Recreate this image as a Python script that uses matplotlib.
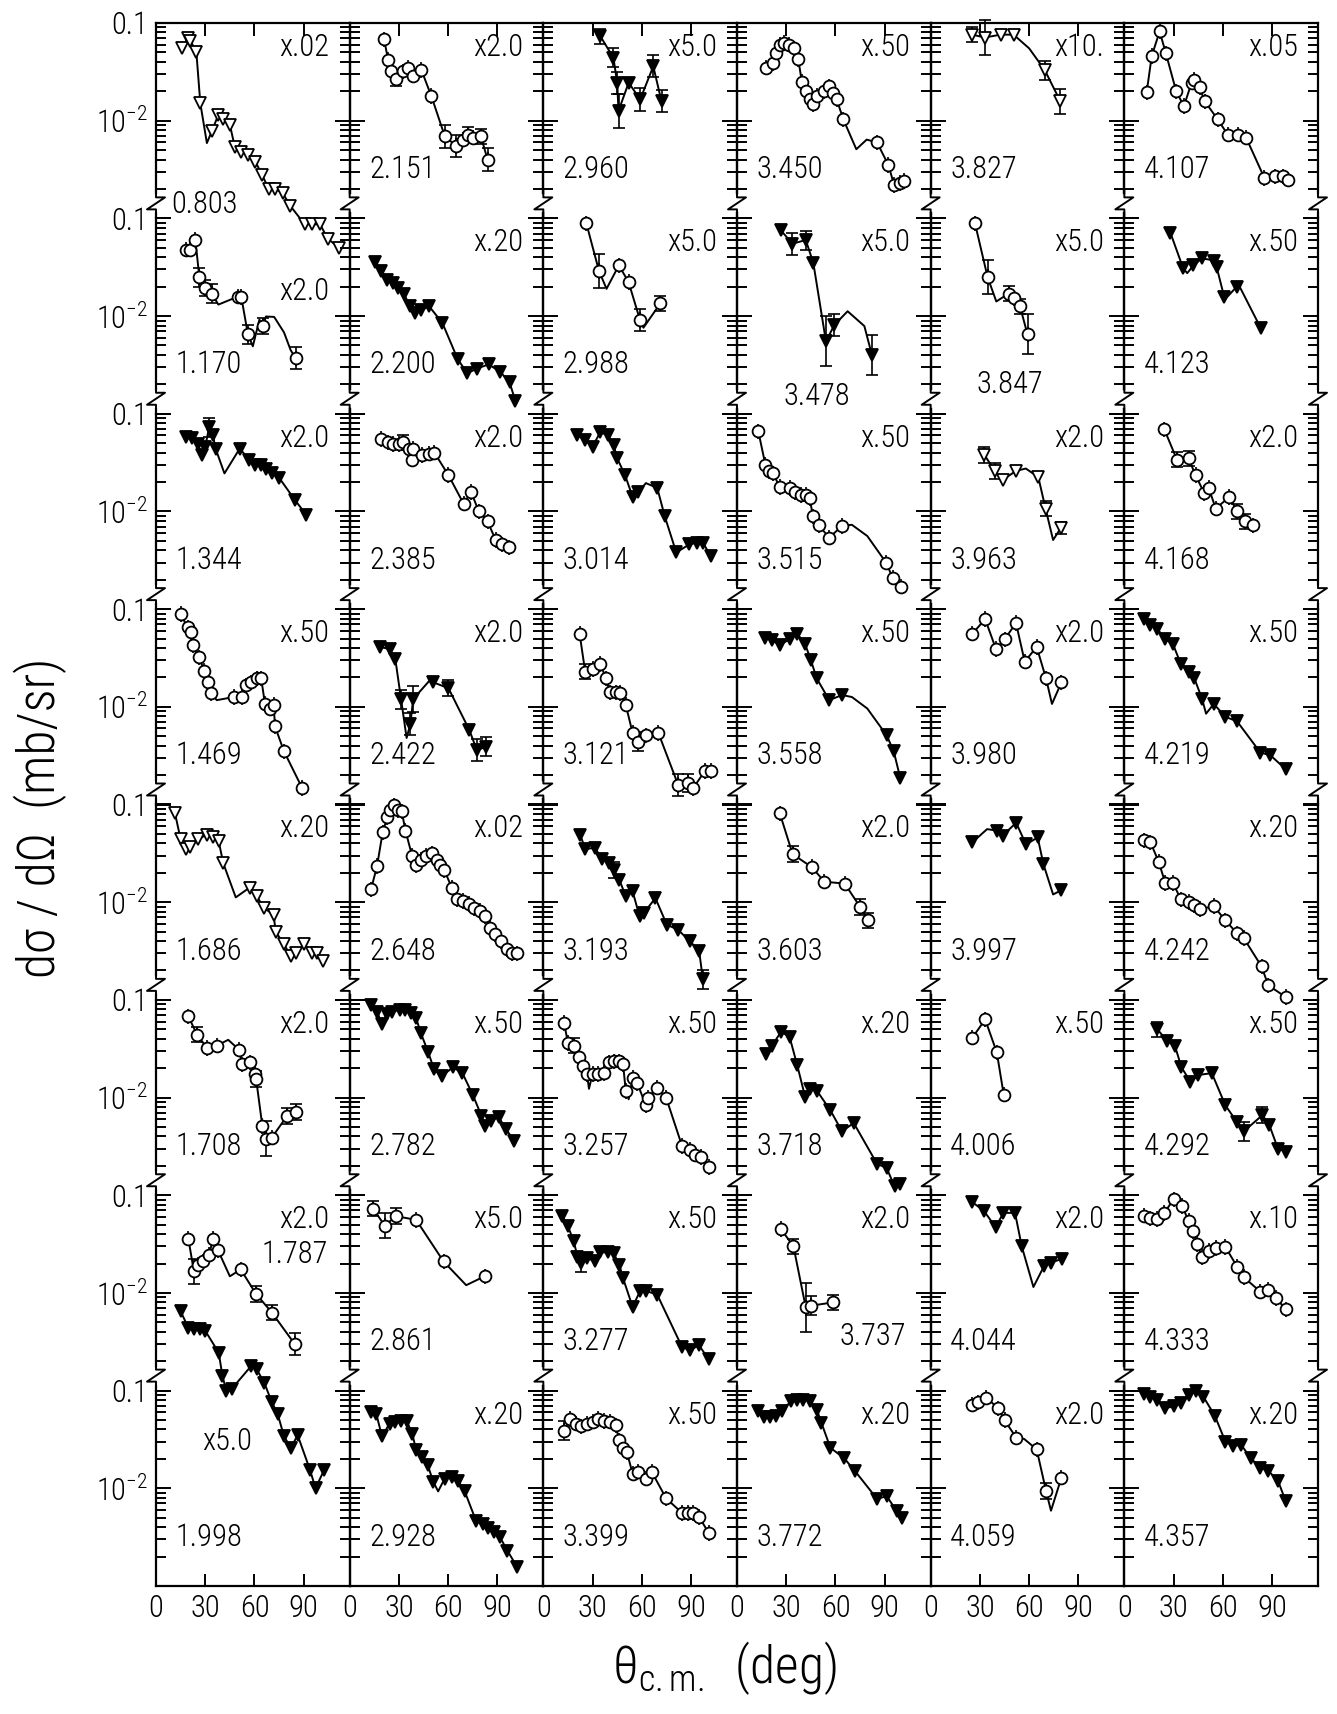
import numpy as np
import matplotlib
matplotlib.use("Agg")
import matplotlib.pyplot as plt
from matplotlib.lines import Line2D
from matplotlib.ticker import LogLocator, NullFormatter, FixedLocator, FixedFormatter
from matplotlib import font_manager

# panels in column order: index // 8 = column, index % 8 = row
ENERGIES = ["0.803", "1.170", "1.344", "1.469", "1.686", "1.708", "1.787", "1.998",
            "2.151", "2.200", "2.385", "2.422", "2.648", "2.782", "2.861", "2.928",
            "2.960", "2.988", "3.014", "3.121", "3.193", "3.257", "3.277", "3.399",
            "3.450", "3.478", "3.515", "3.558", "3.603", "3.718", "3.737", "3.772",
            "3.827", "3.847", "3.963", "3.980", "3.997", "4.006", "4.044", "4.059",
            "4.107", "4.123", "4.168", "4.219", "4.242", "4.292", "4.333", "4.357"]

SCALES = ["x.02", "x2.0", "x2.0", "x.50", "x.20", "x2.0", "x2.0", "x5.0",
          "x2.0", "x.20", "x2.0", "x2.0", "x.02", "x.50", "x5.0", "x.20",
          "x5.0", "x5.0", "", "", "", "x.50", "x.50", "x.50",
          "x.50", "x5.0", "x.50", "x.50", "x2.0", "x.20", "x2.0", "x.20",
          "x10.", "x5.0", "x2.0", "x2.0", "", "x.50", "x2.0", "x2.0",
          "x.05", "x.50", "x2.0", "x.50", "x.20", "x.50", "x.10", "x.20"]

# o = open circle, v = filled triangle, V = open triangle
SYMBOLS = ["V", "o", "v", "o", "V", "o", "o", "v",
           "o", "v", "o", "v", "o", "v", "o", "v",
           "v", "o", "v", "o", "v", "o", "v", "o",
           "o", "v", "o", "v", "o", "v", "o", "v",
           "V", "o", "V", "o", "v", "o", "v", "o",
           "o", "v", "o", "v", "o", "v", "o", "v"]

ANGLES = [
    [15.9, 19.5, 21, 24.6, 27, 34, 38, 41, 45, 48, 52, 56, 60.6, 64.6, 68.7, 72.8, 77.4, 81.7, 90.6, 95, 100, 104.6, 111.6],
    [18.2, 21, 24, 26.4, 30, 34, 49.8, 52, 56, 65, 85],
    [18.5, 22, 25.5, 27.8, 30, 32.4, 34.7, 36.3, 51, 56.7, 60.2, 63.7, 67.1, 70.6, 75.2, 84.5, 91.4],
    [15, 19.2, 21.5, 22.7, 26.2, 29.4, 31.7, 33.6, 47.5, 52.5, 54.9, 57.9, 61.3, 64.1, 66.4, 69.4, 71.7, 72.5, 78, 89],
    [11.6, 15, 18.5, 20.8, 25.5, 30.8, 34.7, 38.2, 41, 57, 61.3, 66, 71.7, 72.9, 78, 82.2, 85.6, 90.3, 94.9, 98.4, 101.8],
    [19.7, 25, 31.2, 37, 50.5, 52.5, 57.2, 60.2, 61, 64.8, 67, 70.6, 79.9, 85.6],
    [19.7, 23.1, 25.5, 28.9, 32.4, 34.7, 37.7, 51.6, 60.9, 70.6, 84.5],
    [15, 19.7, 23.1, 26.6, 30, 38.2, 40.5, 42.8, 46.3, 57.9, 61.3, 66, 70.6, 74.1, 78, 82.2, 86.3, 93.8, 97.2, 102.5],
    [21, 23.4, 25.4, 28.5, 32.5, 35.6, 38.6, 43.7, 49.8, 58, 65, 69, 72, 75, 80, 84],
    [15.7, 19.2, 22.7, 26.2, 29.7, 33, 36.7, 40, 43.7, 48.4, 56.5, 65.9, 71.7, 77.6, 84.6, 91.6, 97.4, 101],
    [19.2, 23.1, 26.6, 30, 32.4, 35.9, 38, 38.7, 44, 48.6, 51.6, 60.2, 69.4, 74, 78.7, 84, 89, 92.6, 97.2],
    [18.5, 24.3, 27.8, 31.3, 37, 38.7, 51, 60.2, 72.9, 77.5, 83.3],
    [13, 16.7, 20.1, 22.9, 24.8, 27.1, 29.4, 31.7, 34, 38, 40.3, 43.3, 46.5, 50.2, 53, 55.3, 57.6, 62.2, 65.7, 69.1,
     72.6, 76, 79.5, 82.3, 85.3, 88.8, 92.2, 95.7, 99.1, 101.9],
    [13.3, 16.7, 19.7, 22.5, 26, 30.6, 34, 37.5, 40.5, 43.3, 47.9, 51.4, 56, 63, 68.7, 75.2, 80.3, 82.6, 86, 90.7, 95.3, 99.9],
    [14.3, 21.3, 28.3, 40.5, 57.2, 82.2],
    [12.8, 16.2, 19.7, 24.3, 27.8, 31.3, 34.7, 38.2, 40.5, 44, 47.5, 50.9, 57.9, 62.5, 66, 70.1, 77.1, 81, 84.5, 88, 91.4, 96.1, 101.9],
    [34.8, 42.7, 45, 45.8, 52, 59, 67, 72],
    [26.2, 33.9, 46, 51.9, 58.9, 71.3],
    [20.8, 25.5, 30, 34.7, 39.4, 42.8, 45, 49.8, 54.4, 57.9, 69.4, 74, 81, 89, 93.8, 97.2, 102],
    [22.1, 25.5, 30, 34.7, 38.2, 40.5, 44, 47, 50.2, 54.4, 57.9, 62.5, 70.1, 82.2, 88, 91.4, 98.4, 101.9],
    [22.5, 25.5, 31.3, 35.9, 40, 42.8, 46.3, 50.2, 54.4, 58.6, 61.3, 68.3, 75.2, 82.2, 89.1, 94.9, 97.2],
    [12.7, 15, 18.5, 22, 24.3, 26.6, 30, 33.6, 37, 40, 43.3, 46.3, 48.6, 50.2, 54.4, 57.2, 62.5, 63.7, 69.4, 74.8,
     84.5, 89.1, 92.6, 96.1, 100.7],
    [11.6, 15, 18.5, 20.8, 23.1, 26.6, 31.3, 34.7, 39.4, 42.8, 46.3, 48.6, 54.4, 59, 62.5, 69.4, 84.5, 89.1, 94.9, 100.7],
    [12.7, 16.2, 19.7, 23.1, 26.6, 30, 33.6, 37, 40.5, 44, 46.3, 48.6, 50.9, 54.4, 57.9, 62.5, 66, 74.8, 84.5, 88,
     91.4, 94.9, 100.7],
    [17.4, 22, 23.7, 26, 28.4, 31.6, 34.8, 37.3, 39.5, 42, 44.2, 46.4, 49, 52.8, 56, 58.5, 60.7, 64.8, 85.3, 92.3, 95.7, 99.5, 102],
    [26.6, 33.7, 41.9, 46.5, 54.2, 59.3, 82.2],
    [13, 17.3, 19.7, 22, 26, 32, 35.5, 39, 42, 44.3, 46.2, 49.8, 56.2, 64, 90.8, 94.8, 100],
    [17.3, 21.3, 26, 32, 36.7, 41.5, 45, 48.6, 56.2, 64, 91.2, 95.5, 99.5],
    [26.1, 33.9, 45.5, 53.3, 65.6, 75.1, 79.9],
    [17.8, 21.3, 26.8, 32, 36.7, 41.5, 44.3, 48.6, 56.9, 64, 71.1, 85.3, 91.2, 96, 99.5],
    [26.8, 34.4, 41.9, 45, 58.5],
    [13, 16.6, 20.1, 23.7, 27.3, 33.2, 36.7, 40.3, 44.3, 48.6, 51.4, 56.9, 65.2, 71.8, 85.3, 91.2, 97.2, 100.7],
    [25.3, 33, 42.6, 50.5, 69.5, 79],
    [27, 34.7, 47.5, 50.6, 54.4, 59],
    [32.7, 39.1, 43.8, 52, 65.6, 70, 79.4],
    [25.4, 33.2, 39.8, 45, 52, 57.3, 64.6, 70.3, 79.7],
    [25.4, 40.3, 43.8, 52.1, 58.1, 65.2, 68.7, 79.4],
    [25.4, 33.2, 40.3, 44.5],
    [25.4, 32.5, 39.6, 44.3, 51.4, 55.5, 69.2, 73.5, 79.9],
    [25.4, 29.1, 33.9, 41, 45, 52.1, 64.6, 70.3, 79.7],
    [13.6, 16.7, 21.5, 25.3, 31.6, 36.3, 41, 42.7, 45.8, 49, 56.9, 63, 69.5, 74.2, 85.3, 91.6, 96.4, 99.5],
    [28.1, 35.8, 42.1, 47.3, 54.9, 56.2, 60.8, 68.5, 83],
    [24.4, 32, 39.1, 43.4, 48.6, 51.4, 55.7, 64, 68.7, 73.5, 78.2],
    [11.8, 15.4, 20.1, 24.9, 29.6, 34.4, 39.1, 42.7, 47.4, 54.5, 61.6, 68.7, 82.9, 88.9, 98.3],
    [11.8, 15.9, 20.9, 24.9, 29.6, 34.4, 39.1, 42.7, 46.2, 54.5, 61.6, 68.7, 72.7, 83.6, 87.7, 98.3],
    [20.1, 26.1, 30.8, 34.8, 40.3, 45, 53.3, 61.6, 68.7, 72.7, 84.1, 88.4, 93.6, 98.3],
    [11.8, 15.4, 19.7, 24.4, 30, 35.1, 39.1, 41.9, 44.3, 47.4, 51.4, 55.7, 61.6, 68.7, 72.7, 82.9, 87.7, 92.4, 98.3],
    [11.8, 15.4, 20.1, 24.9, 30, 34.8, 39.6, 43.8, 48.1, 55.2, 61.6, 66.4, 71.1, 77, 82.9, 87.7, 93.6, 98.3],
]

SIGMAS = [
    [0.055, 0.071, 0.066, 0.050, 0.0151, 0.0078, 0.0115, 0.0105, 0.0091, 0.0054, 0.0048, 0.0045, 0.0038, 0.0028,
     0.0020, 0.0020, 0.0018, 0.00135, 0.00087, 0.00087, 0.00087, 0.00062, 0.0005],
    [0.048, 0.048, 0.060, 0.025, 0.0194, 0.017, 0.0158, 0.0156, 0.0065, 0.0079, 0.0037],
    [0.058, 0.056, 0.049, 0.038, 0.046, 0.073, 0.060, 0.044, 0.044, 0.034, 0.030, 0.030, 0.0275, 0.0245, 0.0219, 0.0132, 0.0093],
    [0.089, 0.065, 0.058, 0.043, 0.032, 0.0235, 0.0178, 0.0138, 0.0126, 0.0126, 0.0166, 0.0178, 0.0195, 0.0195,
     0.0107, 0.0096, 0.0105, 0.0063, 0.0035, 0.00148],
    [0.081, 0.044, 0.035, 0.037, 0.044, 0.049, 0.047, 0.042, 0.025, 0.0141, 0.0115, 0.0087, 0.0074, 0.0050, 0.0037,
     0.0028, 0.0030, 0.0037, 0.0030, 0.0030, 0.0025],
    [0.068, 0.044, 0.032, 0.034, 0.031, 0.0219, 0.0229, 0.0174, 0.0155, 0.0051, 0.0038, 0.0039, 0.0065, 0.0071],
    [0.036, 0.0166, 0.0195, 0.021, 0.0245, 0.036, 0.0275, 0.0174, 0.0098, 0.0063, 0.0030],
    [0.65, 0.44, 0.43, 0.43, 0.41, 0.245, 0.141, 0.100, 0.105, 0.178, 0.166, 0.120, 0.076, 0.058, 0.034, 0.026,
     0.035, 0.0155, 0.010, 0.0155],
    [0.068, 0.042, 0.032, 0.027, 0.032, 0.035, 0.029, 0.033, 0.0178, 0.0069, 0.0055, 0.0064, 0.0072, 0.0067, 0.0069, 0.0040],
    [0.036, 0.029, 0.0235, 0.0219, 0.0194, 0.017, 0.0126, 0.0107, 0.0115, 0.0126, 0.0085, 0.0036, 0.0026, 0.0029,
     0.0032, 0.0027, 0.0021, 0.00135],
    [0.055, 0.051, 0.049, 0.049, 0.051, 0.044, 0.034, 0.044, 0.038, 0.039, 0.040, 0.0235, 0.012, 0.0158, 0.010,
     0.0079, 0.0051, 0.0046, 0.0043],
    [0.041, 0.039, 0.031, 0.012, 0.0067, 0.012, 0.0178, 0.0155, 0.0058, 0.0036, 0.0039],
    [0.0135, 0.0235, 0.052, 0.074, 0.087, 0.098, 0.087, 0.085, 0.054, 0.030, 0.024, 0.027, 0.030, 0.0316, 0.027,
     0.024, 0.0214, 0.0141, 0.0107, 0.0103, 0.0096, 0.0087, 0.0081, 0.0072, 0.0055, 0.0047, 0.0040, 0.0033, 0.0030, 0.0030],
    [0.089, 0.076, 0.056, 0.071, 0.076, 0.079, 0.079, 0.073, 0.065, 0.046, 0.029, 0.0195, 0.0166, 0.0204, 0.0178,
     0.0105, 0.0065, 0.0051, 0.0058, 0.0063, 0.0048, 0.0036],
    [0.073, 0.049, 0.061, 0.056, 0.021, 0.0148],
    [0.060, 0.058, 0.034, 0.046, 0.048, 0.049, 0.049, 0.036, 0.0245, 0.021, 0.0174, 0.0117, 0.0126, 0.0132, 0.012,
     0.0093, 0.0046, 0.0043, 0.0039, 0.0036, 0.0032, 0.0023, 0.00158],
    [0.073, 0.044, 0.0245, 0.0126, 0.0245, 0.0165, 0.036, 0.0158],
    [0.089, 0.029, 0.033, 0.0224, 0.0091, 0.0135],
    [0.060, 0.054, 0.046, 0.065, 0.060, 0.048, 0.035, 0.0235, 0.0141, 0.0158, 0.0174, 0.0089, 0.0038, 0.0046,
     0.0048, 0.0048, 0.0035],
    [0.056, 0.0229, 0.0245, 0.0275, 0.0195, 0.0141, 0.0141, 0.0138, 0.0105, 0.0054, 0.0044, 0.0051, 0.0054,
     0.00158, 0.00166, 0.00148, 0.0022, 0.0022],
    [0.049, 0.035, 0.036, 0.028, 0.025, 0.0214, 0.017, 0.0115, 0.0129, 0.0072, 0.0078, 0.011, 0.0059, 0.0052,
     0.0040, 0.0032, 0.00163],
    [0.058, 0.036, 0.034, 0.026, 0.021, 0.0174, 0.0174, 0.0174, 0.0178, 0.0229, 0.0235, 0.0235, 0.0219, 0.0117,
     0.0158, 0.0141, 0.0083, 0.010, 0.0126, 0.010, 0.0032, 0.0029, 0.0026, 0.00245, 0.00195],
    [0.061, 0.048, 0.034, 0.0235, 0.0204, 0.0229, 0.021, 0.026, 0.026, 0.0255, 0.0195, 0.0141, 0.0072, 0.0105,
     0.0105, 0.0096, 0.0028, 0.0026, 0.0029, 0.0021],
    [0.039, 0.051, 0.046, 0.043, 0.046, 0.048, 0.051, 0.049, 0.048, 0.044, 0.031, 0.0257, 0.0235, 0.0141, 0.0148,
     0.0126, 0.0148, 0.0079, 0.0056, 0.0056, 0.0056, 0.0051, 0.0035],
    [0.035, 0.039, 0.049, 0.060, 0.063, 0.060, 0.055, 0.043, 0.025, 0.020, 0.0166, 0.0147, 0.0178, 0.020, 0.0224,
     0.0194, 0.0166, 0.0103, 0.0060, 0.0035, 0.0022, 0.0023, 0.0024],
    [0.076, 0.055, 0.060, 0.035, 0.0055, 0.0081, 0.0040],
    [0.066, 0.030, 0.026, 0.0245, 0.0178, 0.0174, 0.0158, 0.0148, 0.0148, 0.0138, 0.0089, 0.0072, 0.0054, 0.0071,
     0.0030, 0.0021, 0.0017],
    [0.051, 0.048, 0.043, 0.049, 0.056, 0.044, 0.030, 0.0195, 0.0117, 0.0132, 0.0051, 0.0035, 0.00186],
    [0.081, 0.031, 0.0229, 0.0162, 0.0155, 0.0089, 0.0065],
    [0.028, 0.034, 0.047, 0.042, 0.0214, 0.0102, 0.0123, 0.0118, 0.0074, 0.0045, 0.0055, 0.0021, 0.0019, 0.00123, 0.00129],
    [0.045, 0.030, 0.0071, 0.0074, 0.0080],
    [0.062, 0.054, 0.054, 0.055, 0.062, 0.079, 0.081, 0.081, 0.078, 0.064, 0.047, 0.026, 0.0204, 0.0151, 0.0078,
     0.0083, 0.0059, 0.0050],
    [0.076, 0.071, 0.076, 0.076, 0.033, 0.0158],
    [0.089, 0.025, 0.017, 0.0152, 0.0126, 0.0065],
    [0.038, 0.026, 0.021, 0.026, 0.0224, 0.0107, 0.0068],
    [0.056, 0.079, 0.039, 0.049, 0.072, 0.029, 0.041, 0.0195, 0.0178],
    [0.041, 0.054, 0.048, 0.065, 0.039, 0.046, 0.0245, 0.0132],
    [0.041, 0.063, 0.029, 0.0107],
    [0.085, 0.069, 0.047, 0.066, 0.066, 0.030, 0.019, 0.0204, 0.0224],
    [0.072, 0.076, 0.085, 0.066, 0.050, 0.033, 0.025, 0.0094, 0.0129],
    [0.0195, 0.046, 0.082, 0.049, 0.020, 0.0141, 0.0245, 0.026, 0.0219, 0.0158, 0.0103, 0.0072, 0.0072, 0.0067,
     0.0026, 0.0027, 0.0027, 0.0025],
    [0.071, 0.031, 0.033, 0.039, 0.037, 0.032, 0.0158, 0.020, 0.0076],
    [0.069, 0.034, 0.035, 0.0235, 0.0155, 0.0174, 0.0107, 0.0141, 0.010, 0.0079, 0.0072],
    [0.079, 0.068, 0.063, 0.049, 0.044, 0.0275, 0.0229, 0.0195, 0.012, 0.0107, 0.0079, 0.0071, 0.0034, 0.0032, 0.0023],
    [0.043, 0.041, 0.026, 0.0158, 0.0158, 0.0107, 0.010, 0.0093, 0.0085, 0.0091, 0.0065, 0.0048, 0.0043, 0.0022,
     0.00141, 0.00107],
    [0.050, 0.038, 0.034, 0.0204, 0.0145, 0.017, 0.0178, 0.0083, 0.0056, 0.0045, 0.0066, 0.0052, 0.0030, 0.0028],
    [0.062, 0.058, 0.057, 0.066, 0.091, 0.078, 0.055, 0.043, 0.0316, 0.0234, 0.027, 0.029, 0.0295, 0.0186, 0.0145,
     0.0103, 0.0108, 0.0089, 0.0068],
    [0.093, 0.087, 0.081, 0.066, 0.069, 0.074, 0.091, 0.098, 0.087, 0.055, 0.030, 0.027, 0.028, 0.0204, 0.0162,
     0.0151, 0.012, 0.0074],
]

# extra points of the theory curves (minima / maxima between data points)
CURVE_EXTRA = {
    0: [(31, 0.0059)],
    1: [(38, 0.0131), (59, 0.0049), (63, 0.0092), (67, 0.0099), (72, 0.0098), (78, 0.0068), (82, 0.0045)],
    2: [(41.7, 0.0245)],
    3: [(37, 0.0117)],
    4: [(48.6, 0.0112)],
    5: [(44, 0.039)],
    6: [(45, 0.0148)],
    11: [(34.7, 0.0048), (49.8, 0.0195)],
    14: [(71, 0.012)],
    15: [(53.9, 0.0093)],
    17: [(38.5, 0.019), (61, 0.0076)],
    18: [(62.5, 0.0195)],
    21: [(27.8, 0.0123), (52, 0.0096)],
    24: [(72.7, 0.0051), (79, 0.0064)],
    25: [(67.4, 0.0112), (77.6, 0.0079)],
    26: [(70, 0.0073), (79.4, 0.0056)],
    27: [(70, 0.0126), (79.4, 0.0096)],
    32: [(60, 0.055)],
    33: [(40, 0.0141)],
    34: [(58, 0.0275), (74.6, 0.0051)],
    35: [(73.9, 0.0107)],
    36: [(34.4, 0.056), (74.6, 0.012)],
    38: [(62.6, 0.0115)],
    39: [(57, 0.032), (73.3, 0.0059)],
    41: [(38.3, 0.0275), (61.3, 0.0148), (70, 0.0204)],
    43: [(49.8, 0.0085)],
}

# error bars: panel -> {point index: multiplicative half-width}
ERRBARS = {
    1: {3: 1.25, 4: 1.2, 5: 1.25, 8: 1.25, 9: 1.2, 10: 1.3},
    2: {5: 1.25},
    5: {1: 1.2, 8: 1.2, 10: 1.5, 12: 1.2, 13: 1.2},
    6: {1: 1.35, 8: 1.2, 9: 1.2, 10: 1.3},
    8: {3: 1.2, 9: 1.3, 10: 1.3, 12: 1.2, 14: 1.2, 15: 1.3},
    10: {4: 1.2},
    11: {3: 1.25, 4: 1.3, 5: 1.35, 7: 1.2, 9: 1.3, 10: 1.25},
    14: {0: 1.2, 1: 1.35, 2: 1.2},
    16: {0: 1.2, 1: 1.25, 2: 1.3, 3: 1.5, 5: 1.3, 6: 1.3, 7: 1.3},
    17: {1: 1.5, 4: 1.3, 5: 1.2},
    19: {1: 1.2, 10: 1.25, 13: 1.3, 14: 1.25},
    20: {5: 1.2, 16: 1.25},
    21: {2: 1.2},
    22: {4: 1.25},
    23: {0: 1.25},
    25: {1: 1.3, 2: 1.25, 4: 1.8, 5: 1.3, 6: 1.6},
    28: {1: 1.2, 5: 1.2, 6: 1.2},
    30: {1: 1.2, 2: 1.8, 3: 1.25, 4: 1.2},
    32: {0: 1.2, 1: 1.5, 4: 1.25, 5: 1.35},
    33: {1: 1.5, 2: 1.2, 4: 1.2, 5: 1.6},
    34: {0: 1.2, 1: 1.2, 5: 1.2, 6: 1.15},
    39: {7: 1.2},
    42: {1: 1.2, 2: 1.2, 8: 1.2, 9: 1.2},
    45: {0: 1.2, 9: 1.25, 10: 1.2},
}

# text placement (axes fractions) where it differs from the usual corner
LABEL_POS = {0: (0.08, 0.07, "left"), 6: (0.89, 0.695, "right"), 25: (0.41, 0.09, "center"),
             30: (0.70, 0.275, "center"), 33: (0.41, 0.15, "center")}
SCALE_POS = {1: (0.895, 0.625, "right"), 7: (0.365, 0.74, "center")}

# a narrow, light face is closest to the plotter lettering; fall back to DejaVu Sans
entries = font_manager.fontManager.ttflist
names = {f.name for f in entries}
FAM, STRETCH, FS, BIG = "DejaVu Sans", "normal", 19, 32
for cand in ["Liberation Sans Narrow", "Roboto Condensed", "Open Sans Condensed", "DejaVu Sans Condensed"]:
    if cand in names:
        FAM, FS, BIG = cand, 22, 37
        break
else:
    if any(f.name == "DejaVu Sans" and str(f.stretch) in ("condensed", "semi-condensed") for f in entries):
        STRETCH, FS, BIG = "condensed", 21, 35

plt.rcParams["font.family"] = [FAM, "DejaVu Sans"]
plt.rcParams["font.stretch"] = STRETCH
plt.rcParams["font.weight"] = "light"
plt.rcParams["mathtext.fontset"] = "custom"
plt.rcParams["mathtext.rm"] = FAM + ":light"
plt.rcParams["mathtext.it"] = FAM + ":light"
plt.rcParams["mathtext.bf"] = FAM

W_PX, H_PX = 1337, 1714
fig = plt.figure(figsize=(W_PX / 100, H_PX / 100), dpi=100)
L, R, T, B = 156, 1318, 23, 1586
pw = (R - L) / 6
ph = (B - T) / 8

for i, en in enumerate(ENERGIES):
    col, row = divmod(i, 8)
    ax = fig.add_axes([(L + col * pw) / W_PX, 1 - (T + (row + 1) * ph) / H_PX, pw / W_PX, ph / H_PX])
    ax.patch.set_visible(False)
    ax.set_yscale("log")
    ax.set_xlim(0, 118)
    ax.set_ylim(1e-3, 0.1)

    for s in ax.spines.values():
        s.set_linewidth(1.6)
    ax.spines["top"].set_visible(row == 0)
    ax.spines["bottom"].set_visible(row == 7)

    ax.yaxis.set_major_locator(FixedLocator([1e-3, 1e-2, 1e-1]))
    ax.yaxis.set_minor_locator(LogLocator(10, subs=np.arange(2, 10), numticks=10))
    ax.yaxis.set_minor_formatter(NullFormatter())
    if col == 0:
        ax.yaxis.set_major_formatter(FixedFormatter(["", "$10^{-2}$", "0.1"]))
    else:
        ax.yaxis.set_major_formatter(NullFormatter())
    ax.tick_params(axis="y", which="both", direction="in", left=True, right=True, width=1.4,
                   labelsize=FS, pad=6)
    ax.tick_params(axis="y", which="major", length=11)
    ax.tick_params(axis="y", which="minor", length=7)

    ax.set_xticks([0, 30, 60, 90])
    ax.tick_params(axis="x", direction="in", length=9, width=1.4, top=(row == 0), bottom=(row == 7),
                   labeltop=False, labelbottom=(row == 7), labelsize=FS, pad=6)

    ang = np.array(ANGLES[i], float)
    sig = np.array(SIGMAS[i], float)

    extra = CURVE_EXTRA.get(i, [])
    ca = np.concatenate([ang, [p[0] for p in extra]])
    cs = np.concatenate([sig, [p[1] for p in extra]])
    order = np.argsort(ca, kind="stable")
    ax.plot(ca[order], cs[order], "-", color="k", lw=1.4, clip_on=False, zorder=2)

    sym = SYMBOLS[i]
    if sym == "o":
        c = ax.errorbar(ang, sig, yerr=[sig - sig / 1.2, sig * 1.2 - sig], fmt="none", ecolor="k",
                        elinewidth=1.2, capsize=0, zorder=2.5)
        for a in c.get_children():
            a.set_clip_on(False)
        ax.plot(ang, sig, ls="none", marker="o", ms=8.5, mfc="white", mec="k", mew=1.3,
                clip_on=False, zorder=3)
    else:
        ax.plot(ang, sig, ls="none", marker="v", ms=8, mfc=("k" if sym == "v" else "white"), mec="k",
                mew=1.3, clip_on=False, zorder=3)

    for k, fac in ERRBARS.get(i, {}).items():
        c = ax.errorbar([ang[k]], [sig[k]], yerr=[[sig[k] - sig[k] / fac], [sig[k] * fac - sig[k]]],
                        fmt="none", ecolor="k", elinewidth=1.2, capsize=4, capthick=1.2, zorder=2.6)
        for a in c.get_children():
            a.set_clip_on(False)

    lx, ly, lha = LABEL_POS.get(i, (0.10, 0.25, "left"))
    ax.text(lx, ly, en, transform=ax.transAxes, ha=lha, va="center", fontsize=FS)
    if SCALES[i]:
        sx, sy, sha = SCALE_POS.get(i, (0.895, 0.875, "right"))
        ax.text(sx, sy, SCALES[i], transform=ax.transAxes, ha=sha, va="center", fontsize=FS)


def fpx(x, y):
    return x / W_PX, 1 - y / H_PX


# axis break marks on every vertical line between the rows
ZIG = [(0, -14), (0, -6), (9, -6), (-9, 6), (0, 6), (0, 14)]
for c in range(7):
    xs = L + c * pw
    for r in range(1, 8):
        yc = T + r * ph - 15
        gx, gy = zip(fpx(xs, yc - 6), fpx(xs, yc + 6))
        fig.add_artist(Line2D(gx, gy, transform=fig.transFigure, color="white", lw=4, zorder=10))
        zx, zy = zip(*[fpx(xs + dx, yc + dy) for dx, dy in ZIG])
        fig.add_artist(Line2D(zx, zy, transform=fig.transFigure, color="k", lw=1.4, zorder=11))

fig.text(40 / W_PX, 1 - 818 / H_PX, "dσ / dΩ  (mb/sr)", rotation=90, ha="center", va="center", fontsize=BIG)
fig.text(724 / W_PX, 1 - 1668 / H_PX, "θ$_{\\mathrm{c.m.}}$  (deg)", ha="center", va="center", fontsize=BIG)

fig.savefig("out.png", dpi=100)
